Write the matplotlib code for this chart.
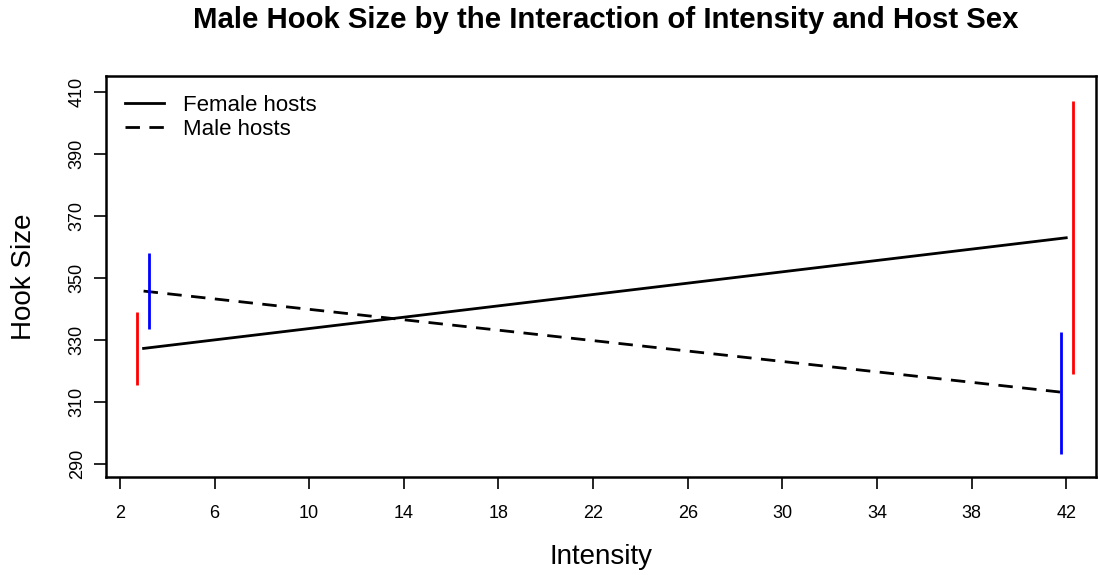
import matplotlib.pyplot as plt

plt.rcParams['font.family'] = ['Liberation Sans', 'DejaVu Sans']

# Interaction plot values
intensity = [3, 42]
female_mean = [327.3, 363.0]
male_mean = [345.8, 313.0]

# error bars: x position, low, high
female_bar_x = [2.73, 42.27]
female_low = [315.5, 319.0]
female_high = [339.1, 407.0]
male_bar_x = [3.24, 41.76]
male_low = [333.5, 293.1]
male_high = [358.0, 332.5]

x_ticks = [2, 6, 10, 14, 18, 22, 26, 30, 34, 38, 42]
y_ticks = [290, 310, 330, 350, 370, 390, 410]

fig = plt.figure(figsize=(10.98, 5.75), dpi=100)
ax = fig.add_axes([0.0965, 0.1704, 0.9015, 0.6974])

ax.plot(intensity, female_mean, color='black', lw=2, label='Female hosts')
ax.plot(intensity, male_mean, color='black', lw=2, ls=(0, (5.2, 3.4)), label='Male hosts')

ax.vlines(female_bar_x, female_low, female_high, color='red', lw=2)
ax.vlines(male_bar_x, male_low, male_high, color='blue', lw=2)

ax.set_xlim(1.41, 43.25)
ax.set_ylim(285.8, 415.2)
ax.set_xticks(x_ticks)
ax.set_yticks(y_ticks)
ax.tick_params(axis='both', direction='out', length=8.5, width=1.2, labelsize=13)
ax.tick_params(axis='x', pad=12)
ax.tick_params(axis='y', pad=6)
for lab in ax.get_yticklabels():
    lab.set_rotation(90)
    lab.set_va('center')
for sp in ax.spines.values():
    sp.set_linewidth(1.8)

ax.set_xlabel('Intensity', fontsize=20, va='center')
ax.xaxis.set_label_coords(0.5, -0.2)
ax.set_ylabel('Hook Size', fontsize=20, va='center')
ax.yaxis.set_label_coords(-0.083, 0.5)
fig.suptitle('Male Hook Size by the Interaction of Intensity and Host Sex',
             fontsize=21.2, fontweight='bold', x=0.552, y=0.99)

ax.legend(loc='upper left', frameon=False, fontsize=16, handlelength=1.75,
          handletextpad=0.85, labelspacing=0.12, borderaxespad=0.0,
          bbox_to_anchor=(0.01, 0.975))

fig.savefig('out.png', dpi=100)
